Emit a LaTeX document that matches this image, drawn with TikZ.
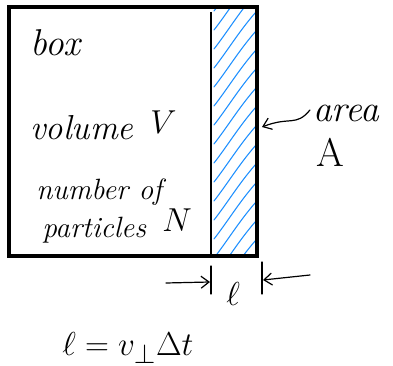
\documentclass[tikz,border=0pt]{standalone}
\usetikzlibrary{arrows.meta}
\definecolor{hatchblue}{RGB}{30,144,255}
\begin{document}
\begin{tikzpicture}[x=0.75pt,y=-0.75pt,
  hand/.style={font=\fontsize{26}{28}\selectfont\itshape, inner sep=0pt, anchor=base west},
  handbig/.style={font=\fontsize{31}{33}\selectfont\itshape, inner sep=0pt, anchor=base west},
  handsm/.style={font=\fontsize{22}{24}\selectfont\itshape, inner sep=0pt, anchor=base west},
  pen/.style={line width=0.9pt, line cap=round},
  tip/.style={-{Straight Barb[length=6pt,width=9pt]}}]
\useasboundingbox (0,0) rectangle (393,366);
\fill[white] (0,0) rectangle (393,366);
% hatching
\begin{scope}
  \clip (212,9) rectangle (255,254);
  \foreach \y in {-45,-26,...,270} {
    \draw[hatchblue, line width=0.8pt, line cap=round] (256,\y) .. controls (240,\y+18) and (228,\y+38) .. (214,\y+56);
  }
\end{scope}
% box
\coordinate (boxTL) at (9,7);
\coordinate (boxBR) at (257,256);
\draw[line width=2.4pt] (boxTL) rectangle (boxBR);
\coordinate (inTop) at (211,12);
\coordinate (inBot) at (211,255);
\draw[line width=0.8pt] (inTop) -- (inBot);
% texts inside
\node[hand, font=\fontsize{28}{30}\selectfont\itshape] (tbox) at (30,56) {box};
\node[hand] (tvol) at (30,140) {volume};
\node[hand] (tV) at (150,134) {$V$};
\node[handsm] (tnum) at (36,200) {number of};
\node[handsm] (tpart) at (42,238) {particles};
\node[hand] (tN) at (162,232) {$N$};
% area
\node[hand, font=\fontsize{28}{30}\selectfont\itshape] (tarea) at (313,122) {area};
\node[hand, font=\fontsize{30}{32}\selectfont] (tA) at (316,167) {A};
\coordinate (edgeA) at (262,127);
\draw[pen, tip] (tarea.west) ++(-3,-4) .. controls (296,127) and (290,116) .. (edgeA);
% dimension l
\coordinate (barLt) at (211,266);
\coordinate (barLb) at (211,294);
\coordinate (barRt) at (262,262);
\coordinate (barRb) at (262,294);
\draw[pen] (barLt) -- (barLb);
\draw[pen] (barRt) -- (barRb);
\coordinate (arLs) at (166,283);
\coordinate (arLe) at (210,282);
\coordinate (arRs) at (310,275);
\coordinate (arRe) at (263,280);
\draw[pen, tip] (arLs) -- (arLe);
\draw[pen, tip] (arRs) -- (arRe);
\node[handbig] (tell) at (226,306) {$\ell$};
% formula
\node[handbig] (formula) at (62,356) {$\ell = v_{\perp}\Delta t$};
\end{tikzpicture}
\end{document}
